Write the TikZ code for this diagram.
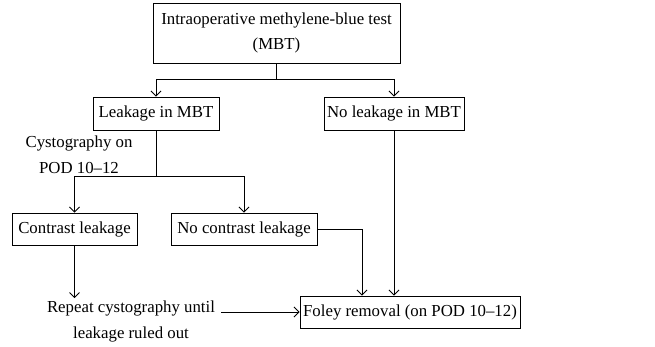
\documentclass[tikz,border=0pt]{standalone}
\usepackage{fontspec}
\setmainfont{Liberation Serif}
\usetikzlibrary{arrows.meta,calc}
\begin{document}
\begin{tikzpicture}[x=1pt,y=-1pt,
  box/.style={draw,line width=0.9pt,inner sep=0pt,align=center,font=\fontsize{16.8}{25}\selectfont},
  txt/.style={inner sep=0pt,align=center,font=\fontsize{16.8}{26}\selectfont},
  arr/.style={line width=0.9pt,-{Straight Barb[length=5pt,width=10pt]}},
  ln/.style={line width=0.9pt}]
\useasboundingbox (0,0) rectangle (655,346);
\node[box,minimum width=247pt,minimum height=60pt] (top) at (276.5,33) {Intraoperative methylene-blue test\\(MBT)};
\node[box,minimum width=126pt,minimum height=33pt] (leak) at (156,113.5) {Leakage in MBT};
\node[box,minimum width=140pt,minimum height=33pt] (noleak) at (394,113.5) {No leakage in MBT};
\node[txt] (cysto) at (79,155) {Cystography on\\POD 10--12};
\node[box,minimum width=125pt,minimum height=32pt] (contrast) at (74.5,229) {Contrast leakage};
\node[box,minimum width=146pt,minimum height=32pt] (nocontrast) at (244,229) {No contrast leakage};
\node[box,minimum width=220pt,minimum height=32pt] (foley) at (410,312) {Foley removal (on POD 10--12)};
\node[txt,inner ysep=2pt] (repeat) at (131,321) {Repeat cystography until\\leakage ruled out};
\coordinate (j1) at (276.5,79);
\coordinate (j2) at (156,176);
\draw[ln] (top.south) -- (j1);
\draw[arr] (j1) -| (leak.north);
\draw[arr] (j1) -| (noleak.north);
\draw[ln] (leak.south) -- (j2);
\draw[arr] (j2) -| (contrast.north);
\draw[arr] (j2) -| (nocontrast.north);
\draw[arr] (nocontrast.east) -| ([xshift=-48pt]foley.north);
\draw[arr] (noleak.south) -- (noleak.south |- foley.north);
\draw[arr] (contrast.south) -- (contrast.south |- repeat.north);
\draw[arr] ([xshift=6pt]repeat.east |- foley.west) -- (foley.west);
\end{tikzpicture}
\end{document}
